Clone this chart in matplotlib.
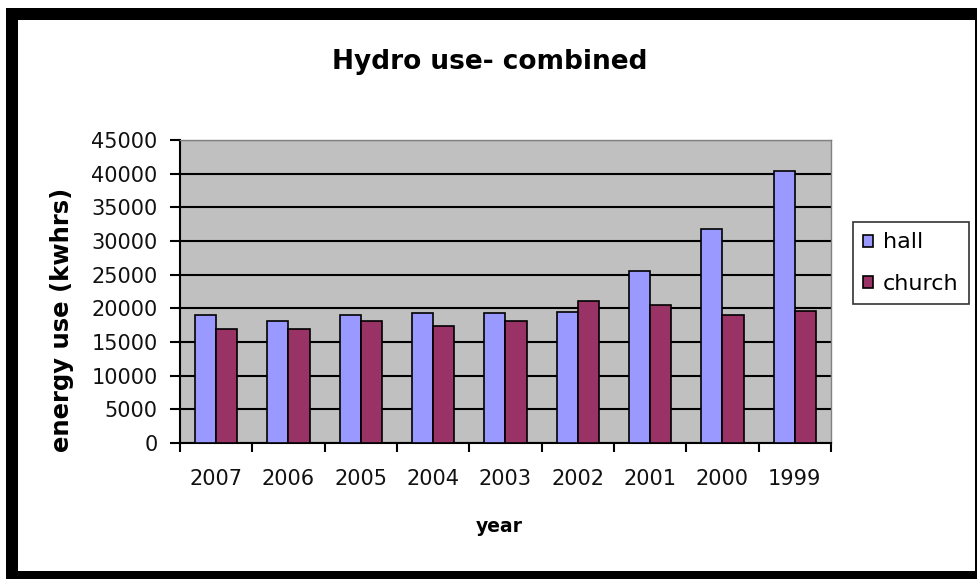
import matplotlib.pyplot as plt
import matplotlib.patches as patches
import numpy as np

# data
years = ['2007', '2006', '2005', '2004', '2003', '2002', '2001', '2000', '1999']
hall = [19000, 18100, 19000, 19300, 19300, 19500, 25500, 31800, 40400]
church = [16900, 16900, 18100, 17400, 18100, 21100, 20500, 19000, 19600]

plt.rcParams['font.family'] = 'DejaVu Sans'

fig = plt.figure(figsize=(9.78, 5.79), dpi=100)
W, H = 978.0, 579.0

# black frame around the chart, as in the screenshot
fig.patches.append(patches.Rectangle((6 / W, 0), 971 / W, 1 - 8 / H, transform=fig.transFigure,
                                     facecolor='black', edgecolor='none', zorder=-10))
fig.patches.append(patches.Rectangle((18 / W, 8 / H), 957 / W, 1 - 28 / H, transform=fig.transFigure,
                                     facecolor='white', edgecolor='none', zorder=-9))

ax = fig.add_axes([180 / W, 1 - 443 / H, 651 / W, 303 / H])
ax.set_facecolor('#C0C0C0')

x = np.arange(len(years))
w = 0.293
ax.bar(x - w / 2, hall, w, color='#9999FF', edgecolor='black', linewidth=1.2, label='hall', zorder=3)
ax.bar(x + w / 2, church, w, color='#993366', edgecolor='black', linewidth=1.2, label='church', zorder=3)

ax.set_xlim(-0.5, len(years) - 0.5)
ax.set_ylim(0, 45000)
ax.set_yticks(np.arange(0, 45001, 5000))
ax.yaxis.grid(True, color='black', linewidth=1.5, zorder=1)
ax.set_axisbelow(True)

ax.set_xticks(x)
ax.set_xticklabels(years)
ax.set_xticks(np.arange(-0.5, len(years)), minor=True)
ax.tick_params(axis='x', which='major', length=0, pad=19, labelsize=15, labelcolor='#111111')
ax.tick_params(axis='x', which='minor', length=6.5, width=1.5, direction='out')
ax.tick_params(axis='y', length=7.2, width=1.5, direction='out', pad=9, labelsize=15, labelcolor='#111111')

for s in ['left', 'bottom']:
    ax.spines[s].set_color('black')
    ax.spines[s].set_linewidth(1.5)
for s in ['top', 'right']:
    ax.spines[s].set_color('#808080')
    ax.spines[s].set_linewidth(1)

fig.text(490 / W, 1 - 62 / H, 'Hydro use- combined', ha='center', va='center', fontsize=19, fontweight='bold')
fig.text(62 / W, 1 - 320 / H, 'energy use (kwhrs)', ha='center', va='center', rotation=90,
         fontsize=17.5, fontweight='bold')
fig.text(499 / W, 1 - 526 / H, 'year', ha='center', va='center', fontsize=13.5, fontweight='bold')

leg = fig.legend(loc='center', bbox_to_anchor=(911 / W, 1 - 263 / H), frameon=True, fancybox=False,
                 fontsize=16, handlelength=0.45, handleheight=0.45, handletextpad=0.45,
                 borderpad=0.46, labelspacing=0.95, borderaxespad=0)
leg.get_frame().set_edgecolor('black')
leg.get_frame().set_linewidth(1.2)

fig.savefig('out.png', dpi=100)
